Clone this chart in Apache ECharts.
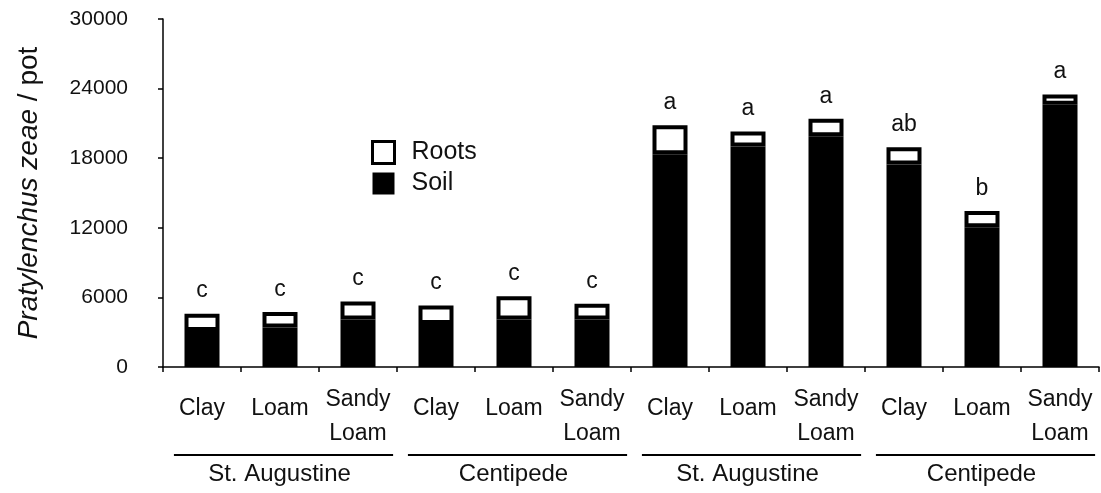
<!DOCTYPE html>
<html>
<head>
<meta charset="utf-8">
<script src="https://cdn.jsdelivr.net/npm/echarts@6/dist/echarts.min.js"></script>
<style>
html,body{margin:0;padding:0;background:#fff;}
#chart{width:1101px;height:493px;}
</style>
</head>
<body>
<div id="chart"></div>
<script>
var categories = ['Clay', 'Loam', 'Sandy\nLoam', 'Clay', 'Loam', 'Sandy\nLoam', 'Clay', 'Loam', 'Sandy\nLoam', 'Clay', 'Loam', 'Sandy\nLoam'];
var soil  = [3100, 3400, 4100, 3700, 4100, 4100, 18350, 19000, 19900, 17450, 12050, 22600];
var total = [4600, 4750, 5650, 5300, 6100, 5450, 20850, 20300, 21400, 18950, 13450, 23500];
var roots = total.map(function (t, i) { return t - soil[i]; });
var letters = ['c', 'c', 'c', 'c', 'c', 'c', 'a', 'a', 'a', 'ab', 'b', 'a'];
var groupNames = ['St. Augustine', 'Centipede', 'St. Augustine', 'Centipede'];
var groupStart = [0, 3, 6, 9];
var groupEnd = [2, 5, 8, 11];
var yTicks = [0, 6000, 12000, 18000, 24000, 30000];

var FONT = 'Liberation Sans, Arial, Helvetica, sans-serif';
var TXT = '#111';

var chart = echarts.init(document.getElementById('chart'), null, { renderer: 'canvas' });

var option = {
  animation: false,
  backgroundColor: '#fff',
  grid: { left: 163, right: 2, top: 19, bottom: 126, containLabel: false },
  legend: {
    orient: 'vertical',
    left: 366,
    top: 135,
    itemWidth: 22,
    itemHeight: 22,
    itemGap: 6,
    icon: 'rect',
    textStyle: { fontFamily: FONT, fontSize: 25, color: TXT, padding: [0, 0, 0, 12] },
    data: [
      { name: 'Roots', itemStyle: { color: '#fff', borderColor: '#000', borderWidth: 3 } },
      { name: 'Soil', itemStyle: { color: '#000', borderColor: '#000', borderWidth: 0 } }
    ]
  },
  xAxis: {
    type: 'category',
    data: categories,
    axisLine: { show: true, lineStyle: { color: '#000', width: 1.5 } },
    axisTick: { show: true, length: 5, lineStyle: { color: '#000', width: 1.5 }, alignWithLabel: false },
    axisLabel: {
      interval: 0,
      margin: 16,
      verticalAlign: 'top',
      formatter: function (v) {
        if (v.indexOf('\n') >= 0) {
          var parts = v.split('\n');
          return '{two|' + parts[0] + '}\n{two|' + parts[1] + '}';
        }
        return '{one|' + v + '}';
      },
      rich: {
        one: { fontFamily: FONT, fontSize: 23, color: TXT, lineHeight: 51 },
        two: { fontFamily: FONT, fontSize: 23, color: TXT, lineHeight: 34 }
      }
    }
  },
  yAxis: {
    type: 'value',
    min: yTicks[0],
    max: yTicks[yTicks.length - 1],
    interval: yTicks[1] - yTicks[0],
    splitLine: { show: false },
    axisLine: { show: true, lineStyle: { color: '#000', width: 1.5 } },
    axisTick: { show: true, length: 5, lineStyle: { color: '#000', width: 1.5 } },
    axisLabel: {
      fontFamily: FONT, fontSize: 21, color: TXT, margin: 35,
      formatter: function (v) { return String(v); }
    },
    name: '{i|Pratylenchus zeae}{n| / pot}',
    nameLocation: 'middle',
    nameGap: 120,
    nameTextStyle: {
      rich: {
        i: { fontFamily: FONT, fontSize: 28, fontStyle: 'italic', color: TXT },
        n: { fontFamily: FONT, fontSize: 28, color: TXT }
      }
    }
  },
  series: [
    {
      name: 'Soil',
      type: 'bar',
      stack: 'total',
      barWidth: 35,
      data: soil,
      itemStyle: { color: '#000', borderColor: '#000', borderWidth: 4 }
    },
    {
      name: 'Roots',
      type: 'bar',
      stack: 'total',
      barWidth: 35,
      data: roots,
      itemStyle: { color: '#fff', borderColor: '#000', borderWidth: 4 },
      label: {
        show: true,
        position: 'top',
        distance: 11,
        fontFamily: FONT,
        fontSize: 23,
        color: TXT,
        formatter: function (p) { return letters[p.dataIndex]; }
      }
    },
    {
      type: 'custom',
      silent: true,
      clip: false,
      encode: { x: 0, y: 1 },
      data: groupNames.map(function (n, i) { return [groupStart[i], 0, groupEnd[i]]; }),
      renderItem: function (params, api) {
        var s = api.value(0), e = api.value(2);
        var p0 = api.coord([s, 0]);
        var p1 = api.coord([e, 0]);
        var bw = api.size([1, 0])[0];
        var x0 = p0[0] - 0.36 * bw;
        var x1 = p1[0] + 0.45 * bw;
        var y = p0[1] + 88;
        return {
          type: 'group',
          children: [
            { type: 'line', shape: { x1: x0, y1: y, x2: x1, y2: y }, style: { stroke: '#000', lineWidth: 2 } },
            { type: 'text', style: { text: groupNames[params.dataIndex], x: (x0 + x1) / 2 - 4, y: y + 19, align: 'center', verticalAlign: 'middle', fontFamily: FONT, fontSize: 24, fill: TXT } }
          ]
        };
      }
    }
  ]
};
chart.setOption(option);
</script>
</body>
</html>
